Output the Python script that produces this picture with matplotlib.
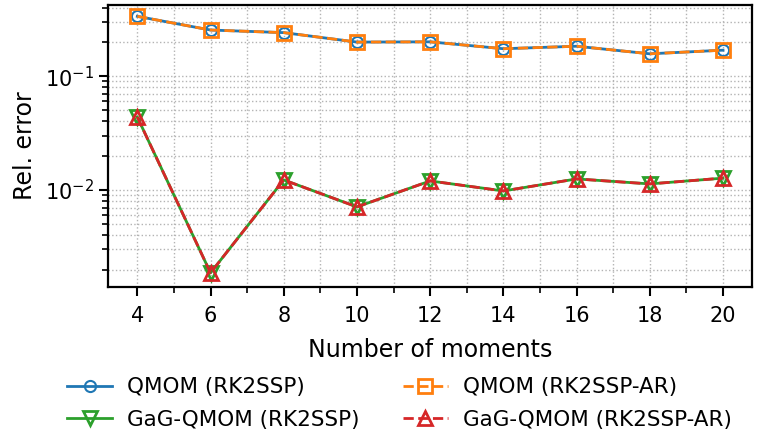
import matplotlib
matplotlib.use('Agg')
import matplotlib.pyplot as plt
from matplotlib.ticker import MultipleLocator

# Number of moments
moments = [4, 6, 8, 10, 12, 14, 16, 18, 20]

# Relative errors
qmom_rk2ssp = [0.335, 0.254, 0.241, 0.199, 0.200, 0.174, 0.183, 0.157, 0.169]
qmom_rk2ssp_ar = [0.335, 0.254, 0.241, 0.199, 0.200, 0.174, 0.183, 0.157, 0.169]
gag_rk2ssp = [0.0437, 0.00187, 0.01225, 0.0071, 0.0120, 0.0098, 0.0125, 0.0113, 0.0127]
gag_rk2ssp_ar = [0.0437, 0.00187, 0.01225, 0.0071, 0.0120, 0.0098, 0.0125, 0.0113, 0.0127]

plt.rcParams['font.size'] = 15

fig = plt.figure(figsize=(7.58, 4.3), dpi=100)
ax = fig.add_axes([0.1425, 0.333, 0.85, 0.655])

l1, = ax.plot(moments, qmom_rk2ssp, color='tab:blue', marker='o', mfc='none', ms=8, mew=1.5, lw=2, label='QMOM (RK2SSP)')
l2, = ax.plot(moments, qmom_rk2ssp_ar, color='tab:orange', marker='s', mfc='none', ms=10, mew=2, lw=2, ls='--', label='QMOM (RK2SSP-AR)')
l3, = ax.plot(moments, gag_rk2ssp, color='tab:green', marker='v', mfc='none', ms=10, mew=2, lw=2, label='GaG-QMOM (RK2SSP)')
l4, = ax.plot(moments, gag_rk2ssp_ar, color='tab:red', marker='^', mfc='none', ms=10, mew=2, lw=2, ls='--', label='GaG-QMOM (RK2SSP-AR)')

ax.set_yscale('log')
ax.set_xlim(3.2, 20.8)
ax.set_ylim(0.00141, 0.42)
ax.set_xticks(moments)
ax.xaxis.set_minor_locator(MultipleLocator(1))
ax.grid(True, which='both', ls=':', color='0.7', lw=1)
ax.tick_params(which='major', direction='out', length=6.5, width=1.5, labelsize=15)
ax.tick_params(axis='x', which='major', pad=7)
ax.tick_params(which='minor', direction='out', length=4, width=1.2)
for s in ax.spines.values():
    s.set_linewidth(1.6)

ax.set_xlabel('Number of moments', fontsize=17, labelpad=9)
ax.set_ylabel('Rel. error', fontsize=17, labelpad=6)

# row-major order in a two-column legend
fig.legend([l1, l3, l2, l4], [l.get_label() for l in (l1, l3, l2, l4)],
           loc='lower center', ncol=2, frameon=False, bbox_to_anchor=(0.527, -0.045),
           columnspacing=2.0, handlelength=2.1, handletextpad=0.7, labelspacing=0.6,
           fontsize=15.5)

fig.savefig('out.png', dpi=100)
